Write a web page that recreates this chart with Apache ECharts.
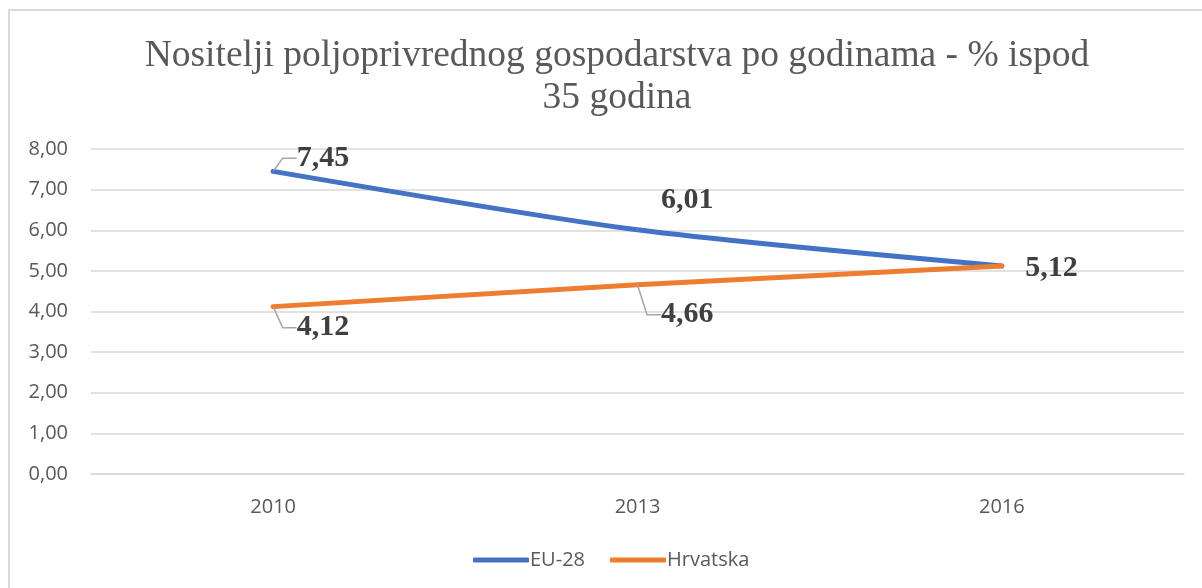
<!DOCTYPE html>
<html>
<head>
<meta charset="utf-8">
<script src="https://cdn.jsdelivr.net/npm/echarts@6/dist/echarts.min.js"></script>
<style>
  html, body { margin: 0; padding: 0; background: #fff; }
  #chart { position: absolute; left: 0; top: 0; width: 1202px; height: 588px; }
  /* okvir grafikona */
  #frame {
    position: absolute; left: 8px; top: 9px; width: 1210px; height: 600px;
    border-left: 2px solid #d9d9d9; border-top: 2px solid #d9d9d9;
    pointer-events: none;
  }
</style>
</head>
<body>
<div id="chart"></div>
<div id="frame"></div>
<script>
var years = ["2010", "2013", "2016"];
var eu28 = [7.45, 6.01, 5.12];
var hrvatska = [4.12, 4.66, 5.12];
var yTicks = [0, 1, 2, 3, 4, 5, 6, 7, 8];

// pomak oznaka (dy) i vodilice po seriji
var labelShift = [
  [-13, -30, 2],
  [21, 30, 0]
];
var leader = [
  [true, false, false],
  [true, true, false]
];

var chartDom = document.getElementById("chart");
var myChart = echarts.init(chartDom);
var option;

function fmt(v) {
  return v.toFixed(2).replace(".", ",");
}

function withLeaders(values, s) {
  return values.map(function (v, i) {
    return { value: v, labelLine: { show: leader[s][i] } };
  });
}

var labelStyle = {
  show: true,
  position: "right",
  distance: 13,
  padding: [0, 0, 0, 9],
  fontFamily: "Liberation Serif",
  fontWeight: "bold",
  fontSize: 30,
  color: "#404040",
  formatter: function (p) {
    return fmt(p.value);
  },
};

var leaderLine = {
  show: true,
  length2: 14,
  lineStyle: { color: "#a6a6a6", width: 1.5 },
};

option = {
  animation: false,
  title: {
    text: "Nositelji poljoprivrednog gospodarstva po godinama - % ispod\n35 godina",
    left: 612,
    textAlign: "center",
    top: 30,
    textStyle: {
      fontFamily: "Liberation Serif",
      fontWeight: "normal",
      fontSize: 37.5,
      lineHeight: 42,
      color: "#595959",
    },
  },
  grid: { left: 91, right: 18, top: 149, bottom: 114 },
  legend: {
    top: 545,
    left: 468,
    itemWidth: 56,
    itemHeight: 5,
    itemGap: 25,
    icon: "roundRect",
    textStyle: { fontFamily: "Open Sans", fontSize: 20, color: "#595959", padding: [0, 0, 0, -4] },
    data: ["EU-28", "Hrvatska"],
  },
  xAxis: {
    type: "category",
    data: years,
    boundaryGap: true,
    axisLine: { lineStyle: { color: "#d9d9d9", width: 1.5 } },
    axisTick: { show: false },
    axisLabel: { margin: 23, fontFamily: "Open Sans", fontSize: 20, color: "#595959" },
  },
  yAxis: {
    type: "value",
    min: yTicks[0],
    max: yTicks[yTicks.length - 1],
    interval: 1,
    axisLine: { show: false },
    axisTick: { show: false },
    splitLine: { lineStyle: { color: "#d9d9d9", width: 1.5 } },
    axisLabel: {
      margin: 23,
      fontFamily: "Open Sans",
      fontSize: 20,
      color: "#595959",
      formatter: function (v) {
        return fmt(v);
      },
    },
  },
  series: [
    {
      name: "EU-28",
      type: "line",
      data: withLeaders(eu28, 0),
      smooth: 0.25,
      showSymbol: true,
      symbolSize: 1,
      itemStyle: { color: "#4472c4" },
      lineStyle: { color: "#4472c4", width: 5, cap: "round" },
      label: labelStyle,
      labelLine: leaderLine,
      labelLayout: function (p) {
        return { dy: labelShift[0][p.dataIndex] };
      },
      z: 2,
    },
    {
      name: "Hrvatska",
      type: "line",
      data: withLeaders(hrvatska, 1),
      showSymbol: true,
      symbolSize: 1,
      itemStyle: { color: "#ed7d31" },
      lineStyle: { color: "#ed7d31", width: 5, cap: "round" },
      label: Object.assign({}, labelStyle, {
        formatter: function (p) {
          return p.dataIndex === 2 ? "" : fmt(p.value);
        },
      }),
      labelLine: leaderLine,
      labelLayout: function (p) {
        return { dy: labelShift[1][p.dataIndex] };
      },
      z: 3,
    },
  ],
};

option && myChart.setOption(option);
</script>
</body>
</html>
